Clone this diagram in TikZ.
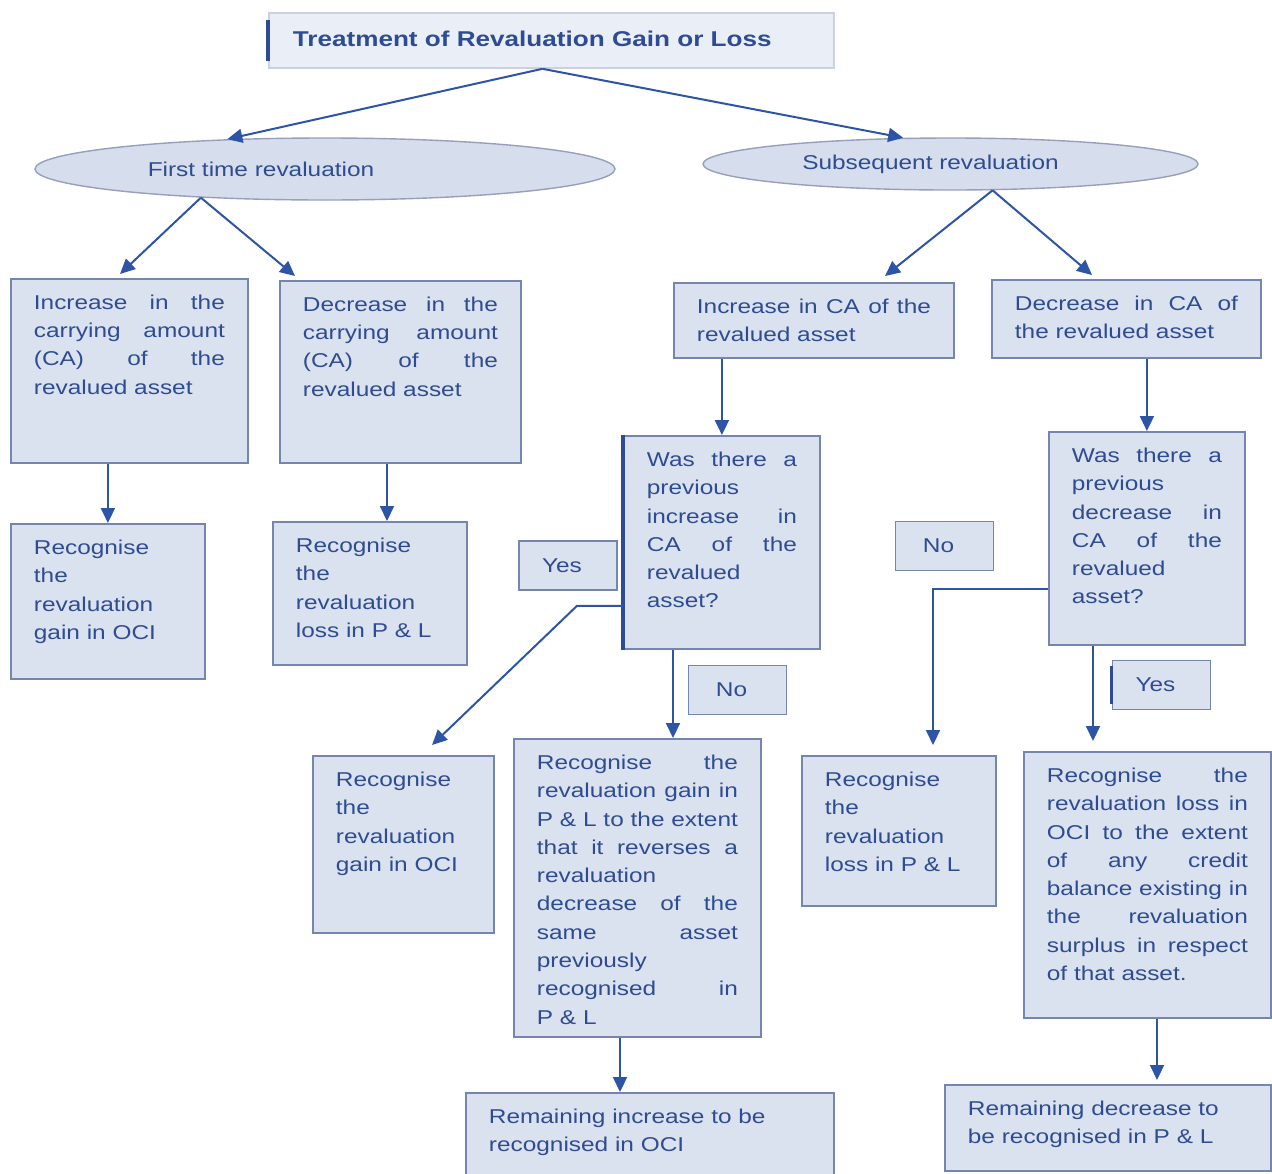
\documentclass[tikz,border=0pt]{standalone}
\usepackage{fontspec}
\setmainfont[FakeStretch=1.22]{Liberation Sans}
\usetikzlibrary{arrows.meta,shapes.geometric,calc}

\definecolor{boxfill}{RGB}{219,226,239}
\definecolor{boxline}{RGB}{118,133,172}
\definecolor{ink}{RGB}{46,76,145}
\definecolor{arrowc}{RGB}{46,84,166}
\definecolor{ellfill}{RGB}{214,221,236}
\definecolor{ellline}{RGB}{150,160,186}
\definecolor{titlefill}{RGB}{234,238,246}
\definecolor{titleline}{RGB}{202,209,225}

% one justified line / one left-aligned line of a text block
\newcommand\Lj[1]{\hbox to\hsize{#1}}
\newcommand\Ln[1]{\hbox to\hsize{#1\hfil}}
% text block for a box of #1 x #2 pixels, top aligned
\newcommand\bx[3]{\parbox[c][\dimexpr #2pt/2-16pt\relax][t]{\dimexpr #1pt/2-23pt\relax}{#3}}

\begin{document}
\begin{tikzpicture}[x=0.5pt,y=-0.5pt,
  box/.style={draw=boxline, line width=0.9pt, fill=boxfill, inner xsep=11.5pt, inner ysep=8pt,
    anchor=north west, text=ink, font=\fontsize{10}{14.15}\selectfont},
  lbl/.style={draw=boxline, line width=0.9pt, fill=boxfill, minimum width=49pt, minimum height=24.5pt,
    inner sep=0pt, text=ink, font=\fontsize{10}{12}\selectfont},
  oval/.style={ellipse, draw=ellline, line width=0.7pt, fill=ellfill, inner sep=0pt,
    text=ink, font=\fontsize{10}{12}\selectfont},
  arr/.style={draw=arrowc, line width=1pt, -{Triangle[length=7.5pt,width=7pt]}},
  edge/.style={draw=ink, line width=1.6pt}]
\useasboundingbox (0,0) rectangle (1272,1173);

% heading
\node[draw=titleline, line width=0.9pt, fill=titlefill, anchor=north west, minimum width=282.5pt,
  minimum height=27.5pt, inner xsep=12pt, inner ysep=0pt, text=ink,
  font=\fontsize{10.7}{12}\selectfont\bfseries] (title) at (268,12)
  {\raisebox{1.5pt}{\makebox[258.5pt][l]{Treatment of Revaluation Gain or Loss}}};
\draw[edge] ($(title.north west)+(0,8)$) -- ($(title.south west)+(0,-8)$);

% the two kinds of revaluation
\node[oval, minimum width=290pt, minimum height=31pt] (E1) at (325,169)
  {\makebox[0pt]{\hspace{-64pt}First time revaluation}};
\node[oval, minimum width=247.5pt, minimum height=26pt] (E2) at (950.5,164)
  {\makebox[0pt]{\hspace{-20pt}\raisebox{-1.5pt}{Subsequent revaluation}}};

% first time revaluation
\node[box] (A) at (10,278) {\bx{237}{184}{\Lj{Increase in the}\Lj{carrying amount}\Lj{(CA) of the}\Ln{revalued asset}}};
\node[box] (B) at (279,280) {\bx{241}{182}{\Lj{Decrease in the}\Lj{carrying amount}\Lj{(CA) of the}\Ln{revalued asset}}};
\node[box] (E) at (10,523) {\bx{194}{155}{\Ln{Recognise}\Ln{the}\Ln{revaluation}\Ln{gain in OCI}}};
\node[box] (F) at (272,521) {\bx{194}{143}{\Ln{Recognise}\Ln{the}\Ln{revaluation}\Ln{loss in P \& L}}};

% subsequent revaluation
\node[box] (C) at (673,282) {\bx{280}{75}{\Lj{Increase in CA of the}\Ln{revalued asset}}};
\node[box] (D) at (991,279) {\bx{269}{78}{\Lj{Decrease in CA of}\Ln{the revalued asset}}};
\node[box] (G) at (623,435) {\bx{196}{213}{\Lj{Was there a}\Ln{previous}\Lj{increase in}\Lj{CA of the}\Ln{revalued}\Ln{asset?}}};
\draw[edge] (G.north west) -- (G.south west);
\node[box] (H) at (1048,431) {\bx{196}{213}{\Lj{Was there a}\Ln{previous}\Lj{decrease in}\Lj{CA of the}\Ln{revalued}\Ln{asset?}}};

\node[lbl] (yes1) at (568,565.5) {\hspace{-6pt}Yes};
\node[lbl] (no1) at (737.5,690) {\hspace{-6pt}No};
\node[lbl] (no2) at (944.5,546) {\hspace{-6pt}No};
\node[lbl] (yes2) at (1161.5,685) {\hspace{-6pt}Yes};
\draw[edge] ($(yes2.north west)+(0,6)$) -- ($(yes2.south west)+(0,-6)$);

\node[box] (I) at (312,755) {\bx{181}{177}{\Ln{Recognise}\Ln{the}\Ln{revaluation}\Ln{gain in OCI}}};
\node[box] (J) at (513,738) {\bx{247}{298}{\Lj{Recognise the}\Lj{revaluation gain in}\Lj{P \& L to the extent}\Lj{that it reverses a}\Ln{revaluation}\Lj{decrease of the}\Lj{same asset}\Ln{previously}\Lj{recognised in}\Ln{P \& L}}};
\node[box] (K) at (801,755) {\bx{194}{150}{\Ln{Recognise}\Ln{the}\Ln{revaluation}\Ln{loss in P \& L}}};
\node[box] (L) at (1023,751) {\bx{247}{266}{\Lj{Recognise the}\Lj{revaluation loss in}\Lj{OCI to the extent}\Lj{of any credit}\Lj{balance existing in}\Lj{the revaluation}\Lj{surplus in respect}\Ln{of that asset.}}};
\node[box] (M) at (465,1092) {\bx{368}{92}{\Ln{Remaining increase to be}\Ln{recognised in OCI}}};
\node[box] (N) at (944,1084) {\bx{326}{86}{\Ln{Remaining decrease to}\Ln{be recognised in P \& L}}};

% connectors
\draw[arr] ($(title.south)+(-9,0)$) -- (E1.163);
\draw[arr] ($(title.south)+(-9,0)$) -- (E2.151);
\draw[arr] (E1.193) -- ($(A.north west)+(110,-4)$);
\draw[arr] (E1.193) -- ($(B.north west)+(16,-4)$);
\draw[arr] (E2.328) -- ($(C.north west)+(212,-6)$);
\draw[arr] (E2.328) -- ($(D.north west)+(101,-4)$);
\draw[arr] (E.north |- A.south) -- (E.north);
\draw[arr] ($(B.south west)+(108,0)$) -- ($(F.north west)+(115,0)$);
\draw[arr] (G.north |- C.south) -- (G.north);
\draw[arr] (H.north |- D.south) -- (H.north);
\draw[arr] ($(G.south west)+(0,-44)$) -- ++(-46,0) -- ($(I.north west)+(120,-10)$);
\draw[arr] ($(G.south west)+(50,0)$) -- ($(J.north west)+(160,0)$);
\draw[arr] ($(H.south west)+(0,-57)$) -| ($(K.north west)+(132,-10)$);
\draw[arr] ($(H.south west)+(45,0)$) -- ($(L.north west)+(70,-10)$);
\draw[arr] ($(J.south west)+(107,0)$) -- ($(M.north west)+(155,0)$);
\draw[arr] ($(L.south west)+(134,0)$) -- ($(N.north west)+(213,-4)$);
\end{tikzpicture}
\end{document}
